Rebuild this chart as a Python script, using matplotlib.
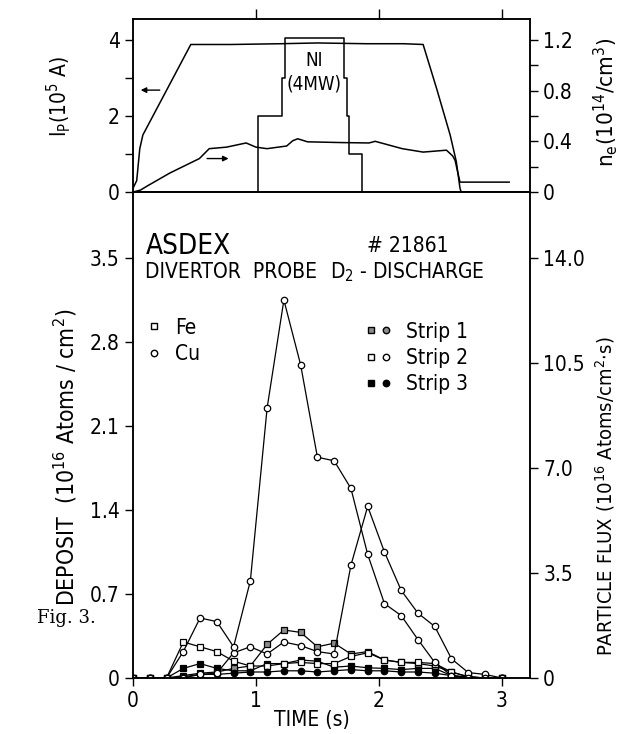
import numpy as np
import matplotlib
matplotlib.use('Agg')
import matplotlib.pyplot as plt
from matplotlib import font_manager
from matplotlib.lines import Line2D
from matplotlib.legend_handler import HandlerTuple

# narrow lettering like the original (DIN-style); use condensed DejaVu if present
has_cond = any(f.name == 'DejaVu Sans' and 'condensed' in str(f.stretch)
               for f in font_manager.fontManager.ttflist)
plt.rcParams['font.family'] = 'DejaVu Sans'
if has_cond:
    plt.rcParams['font.stretch'] = 'condensed'
    FS = 15
else:
    FS = 13.5
plt.rcParams['font.size'] = FS
plt.rcParams['mathtext.default'] = 'regular'

# ---- top panel: plasma current, density, neutral injection ----
ip_t = [0.0, 0.03, 0.055, 0.08, 0.47, 0.8, 1.2, 1.5, 1.9, 2.2, 2.36, 2.47, 2.58, 2.63, 2.66, 2.67]
ip_v = [0.1, 0.3, 1.14, 1.5, 3.88, 3.88, 3.9, 3.92, 3.9, 3.9, 3.88, 2.72, 1.5, 0.8, 0.1, 0.0]

ne_t = [0.0, 0.06, 0.12, 0.3, 0.54, 0.62, 0.76, 0.92, 1.0, 1.09, 1.25, 1.3, 1.34, 1.42,
        1.7, 1.92, 1.97, 2.19, 2.36, 2.55, 2.6, 2.62, 2.66, 3.06]
ne_v = [0.0, 0.015, 0.05, 0.15, 0.264, 0.342, 0.354, 0.387, 0.354, 0.342, 0.363, 0.405,
        0.42, 0.396, 0.39, 0.387, 0.4, 0.342, 0.315, 0.33, 0.285, 0.25, 0.078, 0.078]

ni_t = [0.0, 1.02, 1.21, 1.24, 1.72, 1.74, 1.76, 1.86, 1.9]
ni_v = [0.0, 2.0, 3.0, 4.05, 3.0, 2.0, 1.0, 0.0, 0.0]

# ---- bottom panel: deposits for Fe / Cu on three strips ----
time = np.linspace(0, 3, 23)
fe_strip1 = [0, 0, 0, 0.02, 0.04, 0.05, 0.08, 0.10, 0.28, 0.40, 0.38, 0.26, 0.29,
             0.20, 0.22, 0.15, 0.13, 0.12, 0.10, 0.05, 0.01, 0, 0]
fe_strip2 = [0, 0, 0, 0.30, 0.26, 0.22, 0.14, 0.10, 0.10, 0.12, 0.13, 0.12, 0.12,
             0.18, 0.21, 0.15, 0.13, 0.13, 0.12, 0.05, 0.01, 0, 0]
fe_strip3 = [0, 0, 0, 0.08, 0.12, 0.08, 0.06, 0.06, 0.12, 0.12, 0.15, 0.14, 0.09,
             0.10, 0.085, 0.08, 0.07, 0.08, 0.08, 0.02, 0.0, 0, 0]
cu_strip1 = [0, 0, 0, 0.0, 0.03, 0.04, 0.21, 0.26, 0.20, 0.30, 0.27, 0.22, 0.20,
             0.94, 1.43, 1.05, 0.73, 0.54, 0.43, 0.16, 0.045, 0.03, 0.0]
cu_strip2 = [0, 0, 0, 0.22, 0.50, 0.47, 0.26, 0.81, 2.25, 3.15, 2.61, 1.84, 1.81,
             1.58, 1.03, 0.62, 0.52, 0.32, 0.13, 0.02, 0.0, 0, 0]
cu_strip3 = [0, 0, 0, 0.01, 0.03, 0.03, 0.04, 0.05, 0.05, 0.06, 0.06, 0.05, 0.06,
             0.07, 0.06, 0.06, 0.05, 0.05, 0.04, 0.02, 0.01, 0, 0]

strip_fill = ['0.55', 'white', 'black']

fig = plt.figure(figsize=(6.19, 7.34), dpi=100)
ax_top = fig.add_axes([0.2149, 0.7384, 0.6414, 0.2357])
ax = fig.add_axes([0.2149, 0.0763, 0.6414, 0.6621])

XMAX = 3.23

# top panel
ax_top.plot(ip_t, ip_v, color='k', lw=1.1)
ax_top.step(ni_t, ni_v, where='post', color='k', lw=1.1)
ax_top.set_xlim(0, XMAX)
ax_top.set_ylim(0, 4.55)
ax_top.set_yticks([0, 2, 4])
ax_top.set_yticks([1, 3], minor=True)
ax_top.set_xticks([1, 2, 3])
ax_top.set_xticklabels([])
ax_top.tick_params(axis='x', direction='out', top=True, bottom=True, length=7, width=1)
ax_top.tick_params(axis='y', which='both', direction='out', length=6, width=1)
ax_top.set_ylabel(r'I$_{P}$(10$^{5}$ A)', fontsize=FS)
ax_top.yaxis.set_label_coords(-0.15, 0.55)
ax_top.text(1.47, 3.45, 'NI', ha='center', va='center', fontsize=FS - 1.5)
ax_top.text(1.47, 2.85, '(4MW)', ha='center', va='center', fontsize=FS - 1.5)
ax_top.annotate('', xy=(0.04, 2.68), xytext=(0.24, 2.68),
                arrowprops=dict(arrowstyle='-|>', color='k', lw=1, mutation_scale=8))
ax_top.annotate('', xy=(0.8, 0.88), xytext=(0.58, 0.88),
                arrowprops=dict(arrowstyle='-|>', color='k', lw=1, mutation_scale=8))

ax_ne = ax_top.twinx()
ax_ne.plot(ne_t, ne_v, color='k', lw=1.1)
ax_ne.set_ylim(0, 4.55 * 0.3)
ax_ne.set_yticks([0, 0.4, 0.8, 1.2])
ax_ne.set_yticklabels(['0', '0.4', '0.8', '1.2'])
ax_ne.set_yticks([0.2, 0.6, 1.0], minor=True)
ax_ne.tick_params(axis='y', which='both', direction='out', length=6, width=1)
ax_ne.set_ylabel(r'n$_{e}$(10$^{14}$/cm$^{3}$)', fontsize=FS + 1)
ax_ne.yaxis.set_label_coords(1.155, 0.52)

# bottom panel
ms = 4.6
for vals, fc in [(fe_strip3, strip_fill[2]), (fe_strip1, strip_fill[0]), (fe_strip2, strip_fill[1])]:
    ax.plot(time, vals, color='k', lw=0.9, marker='s', ms=ms, mfc=fc, mec='k', mew=0.9)
for vals, fc in [(cu_strip3, strip_fill[2]), (cu_strip1, strip_fill[1]), (cu_strip2, strip_fill[1])]:
    ax.plot(time, vals, color='k', lw=0.9, marker='o', ms=ms, mfc=fc, mec='k', mew=0.9)

ax.set_xlim(0, XMAX)
ax.set_ylim(0, 4.05)
ax.set_xticks([0, 1, 2, 3])
ax.set_yticks([0, 0.7, 1.4, 2.1, 2.8, 3.5])
ax.set_yticklabels(['0', '0.7', '1.4', '2.1', '2.8', '3.5'])
ax.tick_params(axis='both', direction='out', length=6, width=1)
ax.set_xlabel('TIME (s)', fontsize=FS)
ax.xaxis.set_label_coords(0.45, -0.065)
ax.set_ylabel(r'DEPOSIT  (10$^{16}$ Atoms / cm$^{2}$)', fontsize=FS + 1.5)
ax.yaxis.set_label_coords(-0.135, 0.455)

ax_flux = ax.twinx()
ax_flux.set_ylim(0, 4.05 * 4)
ax_flux.set_yticks([0, 3.5, 7.0, 10.5, 14.0])
ax_flux.set_yticklabels(['0', '3.5', '7.0', '10.5', '14.0'])
ax_flux.tick_params(axis='y', direction='out', length=6, width=1)
ax_flux.set_ylabel(r'PARTICLE FLUX (10$^{16}$ Atoms/cm$^{2}$$\cdot$s)', fontsize=FS - 0.5)
ax_flux.yaxis.set_label_coords(1.16, 0.375)

for a in (ax_top, ax_ne, ax, ax_flux):
    for s in a.spines.values():
        s.set_linewidth(1.1)

ax.text(0.1, 3.6, 'ASDEX', fontsize=FS + 5, va='center', ha='left')
ax.text(1.9, 3.6, '# 21861', fontsize=FS, va='center', ha='left')
ax.text(0.1, 3.38, 'DIVERTOR  PROBE', fontsize=FS, va='center', ha='left')
ax.text(1.6, 3.38, r'D$_{2}$ - DISCHARGE', fontsize=FS, va='center', ha='left')

# legends
h_fe = Line2D([], [], ls='none', marker='s', ms=ms, mfc='white', mec='k')
h_cu = Line2D([], [], ls='none', marker='o', ms=ms, mfc='white', mec='k')
leg1 = ax.legend([h_fe, h_cu], ['Fe', 'Cu'], loc='upper left',
                 bbox_to_anchor=(-0.02, 0.78), frameon=False, handlelength=1.0,
                 handletextpad=0.5, labelspacing=0.3, fontsize=FS)
ax.add_artist(leg1)
strip_handles = []
for fc in strip_fill:
    strip_handles.append((Line2D([], [], ls='none', marker='s', ms=ms, mfc=fc, mec='k'),
                          Line2D([], [], ls='none', marker='o', ms=ms, mfc=fc, mec='k')))
ax.legend(strip_handles, ['Strip 1', 'Strip 2', 'Strip 3'], loc='upper left',
          bbox_to_anchor=(0.54, 0.772), frameon=False, handlelength=1.2,
          handletextpad=0.7, labelspacing=0.3, fontsize=FS,
          handler_map={tuple: HandlerTuple(ndivide=None, pad=0.2)})

fig.text(0.06, 0.158, 'Fig. 3.', family='DejaVu Serif', stretch='normal', fontsize=13, va='center')

fig.savefig('out.png', dpi=100)
